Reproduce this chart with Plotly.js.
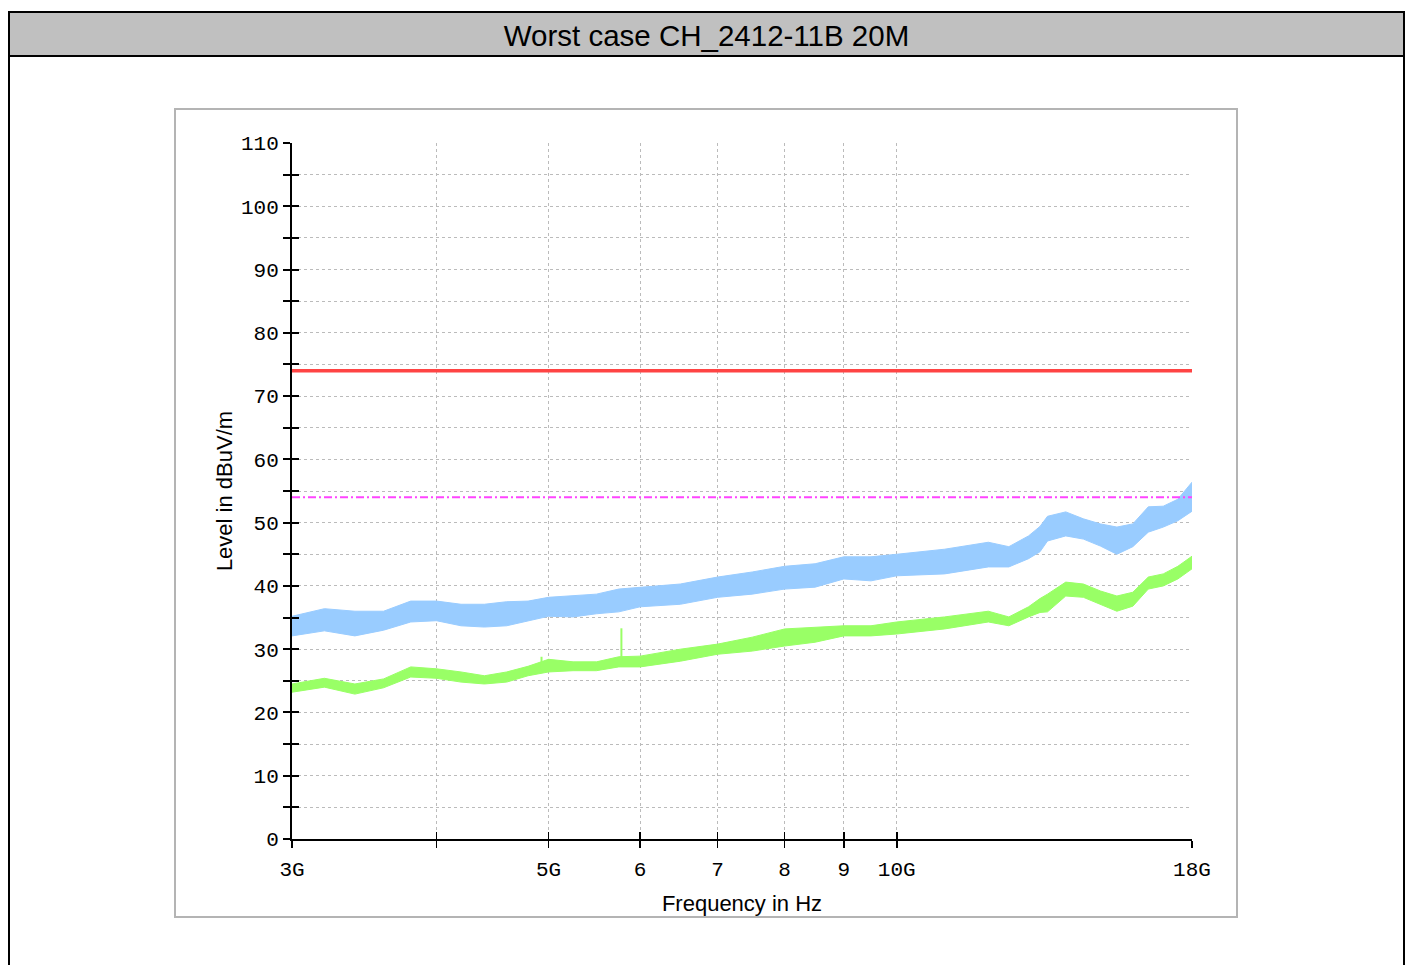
<!DOCTYPE html>
<html><head><meta charset="utf-8">
<script src="https://cdn.plot.ly/plotly-3.0.1.min.js"></script>
<style>
html,body{margin:0;padding:0;background:#fff;overflow:hidden}
#chart{width:1408px;height:965px}
</style>
</head><body><div id="chart"></div>
<script>
// ---- data ----
const freqGHz   = [3.0, 3.2, 3.4, 3.6, 3.8, 4.0, 4.2, 4.4, 4.6, 4.8, 5.0, 5.25, 5.5, 5.75, 6.0, 6.5, 7.0, 7.5, 8.0, 8.5, 9.0, 9.5, 10, 11, 12, 12.5, 13, 13.3, 13.5, 14, 14.5, 15, 15.5, 16, 16.5, 17, 17.5, 18];
const peakUpper = [35.2, 36.4, 36.0, 36.0, 37.6, 37.6, 37.1, 37.1, 37.5, 37.6, 38.2, 38.4, 38.7, 39.5, 39.8, 40.3, 41.4, 42.2, 43.1, 43.5, 44.6, 44.6, 45.0, 45.8, 46.9, 46.2, 47.9, 49.4, 51.0, 51.7, 50.6, 49.8, 49.3, 49.8, 52.5, 52.6, 53.7, 56.4];
const peakLower = [32.1, 32.9, 32.1, 33.0, 34.3, 34.5, 33.7, 33.5, 33.7, 34.5, 35.2, 35.1, 35.6, 35.9, 36.7, 37.1, 38.2, 38.7, 39.5, 39.8, 41.1, 40.8, 41.6, 41.9, 43.0, 43.0, 44.3, 45.4, 47.1, 47.9, 47.4, 46.3, 45.0, 46.2, 48.5, 49.3, 50.3, 51.8];
const avgUpper  = [24.5, 25.4, 24.5, 25.3, 27.2, 26.9, 26.4, 25.8, 26.4, 27.3, 28.4, 28.0, 28.0, 28.8, 28.9, 30.0, 30.8, 31.9, 33.2, 33.5, 33.7, 33.7, 34.3, 35.1, 36.0, 35.1, 36.7, 38.0, 38.7, 40.6, 40.3, 39.2, 38.4, 39.0, 41.4, 41.9, 43.1, 44.7];
const avgLower  = [23.2, 24.0, 22.9, 23.9, 25.6, 25.4, 24.8, 24.5, 24.8, 25.8, 26.4, 26.6, 26.6, 27.2, 27.2, 28.1, 29.2, 29.7, 30.5, 31.1, 32.1, 32.1, 32.4, 33.2, 34.3, 33.7, 35.1, 35.8, 35.9, 38.4, 38.2, 37.1, 36.0, 36.8, 39.5, 40.0, 41.1, 42.7];
const spikeFreqGHz = [4.93, 5.78];
const spikeBase    = [26.8, 28.0];
const spikeTop     = [28.8, 33.3];
const limitPeak = 74;
const limitAvg  = 54;
const xTickGHz  = [3, 4, 5, 6, 7, 8, 9, 10, 18];
const xTickText = ['3G', '', '5G', '6', '7', '8', '9', '10G', '18G'];
const yTickVals = [0, 5, 10, 15, 20, 25, 30, 35, 40, 45, 50, 55, 60, 65, 70, 75, 80, 85, 90, 95, 100, 105, 110];
const yTickText = ['0', '', '10', '', '20', '', '30', '', '40', '', '50', '', '60', '', '70', '', '80', '', '90', '', '100', '', '110'];
const titleText = 'Worst case CH_2412-11B 20M';
const xTitle = 'Frequency in Hz';
const yTitle = 'Level in dBuV/m';

// ---- geometry ----
const W = 1408, H = 965, L = 292, R = 1192, T = 143, B = 839;
const px = v => (v - L) / (R - L);
const py = v => (B - v) / (B - T);
const hz = a => a.map(g => g * 1e9);
const fHz = hz(freqGHz);
const xRange = [Math.log10(3e9), Math.log10(18e9)];

const spikeX = [], spikeY = [];
spikeFreqGHz.forEach((f, i) => { spikeX.push(f * 1e9, f * 1e9, null); spikeY.push(spikeBase[i], spikeTop[i], null); });

const blue = '#99ccff', green = '#99ff66';
const traces = [
  {x: fHz, y: peakLower, mode: 'lines', line: {color: blue, width: 1}, hoverinfo: 'skip', showlegend: false},
  {x: fHz, y: peakUpper, mode: 'lines', line: {color: blue, width: 1}, fill: 'tonexty', fillcolor: blue, hoverinfo: 'skip', showlegend: false},
  {x: fHz, y: avgLower, mode: 'lines', line: {color: green, width: 1}, hoverinfo: 'skip', showlegend: false},
  {x: fHz, y: avgUpper, mode: 'lines', line: {color: green, width: 1}, fill: 'tonexty', fillcolor: green, hoverinfo: 'skip', showlegend: false},
  {x: spikeX, y: spikeY, mode: 'lines', line: {color: green, width: 2}, hoverinfo: 'skip', showlegend: false},
  {x: [3e9, 18e9], y: [limitPeak, limitPeak], xaxis: 'x2', yaxis: 'y2', mode: 'lines', line: {color: '#ff4444', width: 3.5}, hoverinfo: 'skip', showlegend: false},
  {x: [3e9, 18e9], y: [limitAvg, limitAvg], xaxis: 'x2', yaxis: 'y2', mode: 'lines', line: {color: '#ff44ff', width: 2, dash: '8px,3px,2px,3px'}, hoverinfo: 'skip', showlegend: false}
];

const tickFont = {family: 'Liberation Mono, DejaVu Sans Mono, monospace', size: 21, color: '#000'};
const labFont = {family: 'Liberation Sans, Arial, sans-serif', size: 22, color: '#000'};

const layout = {
  width: W, height: H,
  margin: {l: L, r: W - R, t: T, b: H - B, pad: 0},
  paper_bgcolor: '#fff', plot_bgcolor: 'rgba(0,0,0,0)',
  showlegend: false,
  title: {text: titleText, font: {family: 'Liberation Sans, Arial, sans-serif', size: 29.5, color: '#000'},
          x: 706.5 / W, xref: 'container', xanchor: 'center', y: 1 - 36 / H, yref: 'container', yanchor: 'middle'},
  xaxis: {type: 'log', range: xRange, tickvals: hz(xTickGHz), ticktext: xTickText,
          ticks: 'outside', ticklen: 7, tickwidth: 1.5, tickcolor: '#000',
          showline: true, linecolor: '#000', linewidth: 2,
          showgrid: true, gridcolor: '#bbbbbb', griddash: 'dot', gridwidth: 1, zeroline: false,
          tickfont: tickFont, ticklabelstandoff: 3, automargin: false, fixedrange: true,
          title: {text: xTitle, font: labFont, standoff: 14}},
  xaxis2: {type: 'log', range: xRange, overlaying: 'x', anchor: 'y', side: 'bottom', tickvals: hz(xTickGHz),
           ticks: 'inside', ticklen: 7, tickwidth: 1.5, tickcolor: '#000', showticklabels: false,
           showline: false, showgrid: false, zeroline: false, automargin: false, fixedrange: true},
  yaxis: {range: [0, 110], tickvals: yTickVals, ticktext: yTickText,
          ticks: 'outside', ticklen: 7, tickwidth: 2, tickcolor: '#000',
          showline: true, linecolor: '#000', linewidth: 2,
          showgrid: true, gridcolor: '#bbbbbb', griddash: 'dot', gridwidth: 1, zeroline: false,
          tickfont: tickFont, ticklabelstandoff: 0, automargin: false, fixedrange: true,
          title: {text: yTitle, font: labFont, standoff: 2}},
  yaxis2: {range: [0, 110], overlaying: 'y', anchor: 'x', side: 'left', tickvals: yTickVals,
           ticks: 'inside', ticklen: 7, tickwidth: 2, tickcolor: '#000', showticklabels: false,
           showline: false, showgrid: false, zeroline: false, automargin: false, fixedrange: true},
  shapes: [
    {type: 'rect', xref: 'paper', yref: 'paper', x0: px(175), x1: px(1237), y0: py(917), y1: py(109),
     line: {color: '#b4b4b4', width: 2}, fillcolor: '#fff', layer: 'below'},
    {type: 'rect', xref: 'paper', yref: 'paper', x0: px(9), x1: px(1404), y0: py(1000), y1: py(12),
     line: {color: '#000', width: 2}, fillcolor: 'rgba(0,0,0,0)', layer: 'below'},
    {type: 'rect', xref: 'paper', yref: 'paper', x0: px(9), x1: px(1404), y0: py(56), y1: py(12),
     line: {color: '#000', width: 2}, fillcolor: '#c0c0c0', layer: 'below'}
  ]
};

Plotly.newPlot('chart', traces, layout, {staticPlot: true, displayModeBar: false});
</script>
</body></html>
